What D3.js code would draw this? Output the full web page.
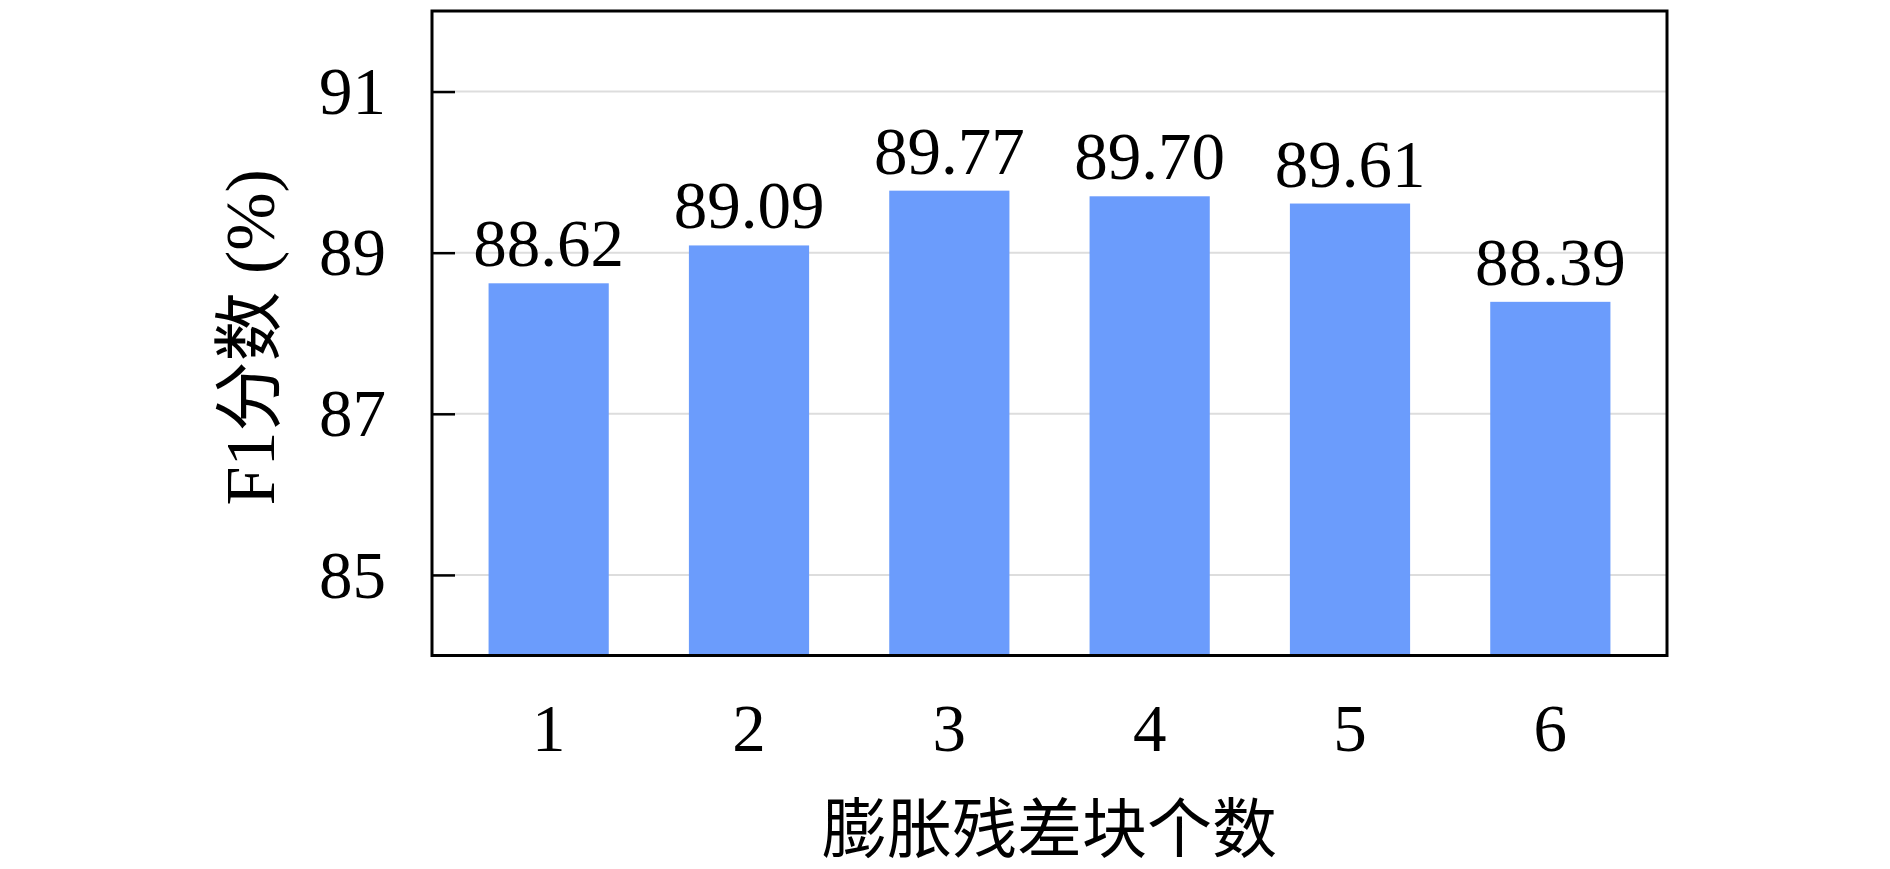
<!DOCTYPE html>
<html>
<head>
<meta charset="utf-8">
<script src="https://cdn.jsdelivr.net/npm/d3@7"></script>
<style>
  html, body { margin: 0; padding: 0; background: #fff; }
  svg { display: block; }
</style>
</head>
<body>
<svg id="chart" width="1890" height="869"></svg>
<script>
const categories = ["1", "2", "3", "4", "5", "6"];
const values = [88.62, 89.09, 89.77, 89.70, 89.61, 88.39];
const valueLabels = ["88.62", "89.09", "89.77", "89.70", "89.61", "88.39"];
const yTicks = [85, 87, 89, 91];
const xTitle = "膨胀残差块个数";
const yTitle = "F1分数 (%)";

(function () {
const svg = d3.select("#chart");
const pLeft = 432, pRight = 1667, pTop = 11, pBottom = 655.5;
const fontFam = "'Liberation Serif', 'DejaVu Serif', 'Noto Sans CJK SC', serif";

const x = d3.scaleBand()
  .domain(categories)
  .range([pLeft + 16.5, pRight - 16.5])
  .paddingInner(0.4)
  .paddingOuter(0.2);

const y = d3.scaleLinear().domain([84, 92]).range([pBottom, pTop]);

// gridlines
svg.append("g")
  .selectAll("line")
  .data(yTicks)
  .join("line")
  .attr("x1", pLeft).attr("x2", pRight)
  .attr("y1", d => y(d)).attr("y2", d => y(d))
  .attr("stroke", "#dddddd")
  .attr("stroke-width", 2);

// bars
svg.append("g")
  .selectAll("rect")
  .data(values)
  .join("rect")
  .attr("x", (d, i) => x(categories[i]))
  .attr("width", x.bandwidth())
  .attr("y", d => y(d))
  .attr("height", d => pBottom - y(d))
  .attr("fill", "#6b9cfc");

// value labels
svg.append("g")
  .selectAll("text")
  .data(values)
  .join("text")
  .attr("x", (d, i) => x(categories[i]) + x.bandwidth() / 2)
  .attr("y", d => y(d) - 17)
  .attr("text-anchor", "middle")
  .attr("font-family", fontFam)
  .attr("font-size", 67)
  .attr("fill", "#000")
  .text((d, i) => valueLabels[i]);

// y axis (ticks inward, labels left)
const yAxis = d3.axisLeft(y).tickValues(yTicks).tickSizeInner(-23).tickSizeOuter(0).tickPadding(46).tickFormat(d3.format("d"));
const gy = svg.append("g").attr("transform", `translate(${pLeft},0)`).call(yAxis);
gy.select(".domain").remove();
gy.selectAll(".tick line").attr("stroke", "#000").attr("stroke-width", 2.5);
gy.selectAll(".tick text")
  .attr("font-family", fontFam)
  .attr("font-size", 67)
  .attr("fill", "#000")
  .attr("dy", "0.33em");

// x axis labels
const xAxis = d3.axisBottom(x).tickSize(0).tickPadding(0);
const gx = svg.append("g").attr("transform", `translate(0,${pBottom})`).call(xAxis);
gx.select(".domain").remove();
gx.selectAll(".tick text")
  .attr("font-family", fontFam)
  .attr("font-size", 67)
  .attr("fill", "#000")
  .attr("y", 95)
  .attr("dy", 0);

// frame
svg.append("rect")
  .attr("x", pLeft).attr("y", pTop)
  .attr("width", pRight - pLeft).attr("height", pBottom - pTop)
  .attr("fill", "none")
  .attr("stroke", "#000")
  .attr("stroke-width", 3);

// axis titles
svg.append("text")
  .attr("x", (pLeft + pRight) / 2)
  .attr("y", 852)
  .attr("text-anchor", "middle")
  .attr("font-family", fontFam)
  .attr("font-size", 65)
  .attr("fill", "#000")
  .text(xTitle);

svg.append("text")
  .attr("transform", `translate(274,${(pTop + pBottom) / 2 + 4}) rotate(-90)`)
  .attr("text-anchor", "middle")
  .attr("font-family", fontFam)
  .attr("font-size", 70)
  .attr("fill", "#000")
  .text(yTitle);
})();
</script>
</body>
</html>
